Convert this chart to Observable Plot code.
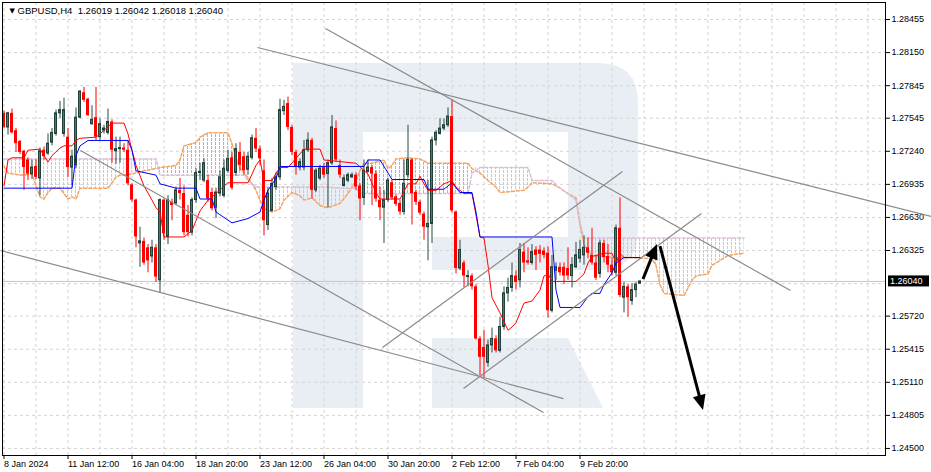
<!DOCTYPE html>
<html><head><meta charset="utf-8">
<script src="https://cdn.jsdelivr.net/npm/d3@7"></script>
<script src="https://cdn.jsdelivr.net/npm/@observablehq/plot@0.6"></script>
<style>html,body{margin:0;padding:0;background:#fff;overflow:hidden}svg{display:block}</style>
</head><body>
<script>
const symbol = "GBPUSD", timeframe = "H4";
const xLabels = ["8 Jan 2024","11 Jan 12:00","16 Jan 04:00","18 Jan 20:00","23 Jan 12:00","26 Jan 04:00","30 Jan 20:00","2 Feb 12:00","7 Feb 04:00","9 Feb 20:00"];
const xTickBars = [0,16,32,48,64,80,96,112,128,144];
const yTickValues = [1.28455,1.28150,1.27845,1.27545,1.27240,1.26935,1.26630,1.26325,1.25720,1.25415,1.25110,1.24805,1.24500];
const yGrid = [1.28455,1.28150,1.27845,1.27545,1.27240,1.26935,1.26630,1.26325,1.26020,1.25720,1.25415,1.25110,1.24805,1.24500];

const open = [
1.2759,1.2746,1.2759,1.2743,1.2733,1.2724,1.2716,1.2703,1.2710,1.2699,
1.2725,1.2722,1.2732,1.2740,1.2759,1.2740,1.2737,1.2709,1.2711,1.2755,
1.2778,1.2772,1.2749,1.2755,1.2737,1.2743,1.2741,1.2751,1.2724,1.2726,
1.2727,1.2725,1.2693,1.2679,1.2639,1.2641,1.2635,1.2627,1.2635,1.2605,
1.2679,1.2645,1.2677,1.2676,1.2688,1.2685,1.2665,1.2649,1.2679,1.2704,
1.2697,1.2697,1.2686,1.2672,1.2685,1.2683,1.2706,1.2718,1.2704,1.2723,
1.2719,1.2707,1.2718,1.2736,1.2726,1.2706,1.2656,1.2669,1.2691,1.2700,
1.2761,1.2768,1.2746,1.2723,1.2709,1.2709,1.2725,1.2734,1.2688,1.2699,
1.2709,1.2703,1.2713,1.2745,1.2711,1.2692,1.2697,1.2700,1.2702,1.2692,
1.2681,1.2705,1.2709,1.2703,1.2679,1.2672,1.2679,1.2695,1.2682,1.2676,
1.2668,1.2702,1.2716,1.2686,1.2677,1.2666,1.2654,1.2657,1.2734,1.2740,
1.2745,1.2748,1.2756,1.2668,1.2616,1.2621,1.2608,1.2609,1.2599,1.2551,
1.2543,1.2529,1.2545,1.2551,1.2540,1.2562,1.2593,1.2598,1.2609,1.2605,
1.2631,1.2623,1.2621,1.2633,1.2633,1.2632,1.2630,1.2577,1.2614,1.2617,
1.2617,1.2616,1.2609,1.2617,1.2625,1.2628,1.2635,1.2628,1.2621,1.2611,
1.2639,1.2627,1.2619,1.2612,1.2653,1.2589,1.2599,1.2586,1.2596,1.26019];
const high = [
1.2761,1.2760,1.2763,1.2745,1.2734,1.2725,1.2718,1.2716,1.2716,1.2727,
1.2728,1.2740,1.2745,1.2762,1.2770,1.2773,1.2745,1.2725,1.2764,1.2780,
1.2783,1.2773,1.2766,1.2783,1.2754,1.2748,1.2763,1.2753,1.2737,1.2737,
1.2731,1.2734,1.2694,1.2680,1.2654,1.2644,1.2638,1.2642,1.2638,1.2680,
1.2680,1.2683,1.2680,1.2691,1.2699,1.2692,1.2674,1.2681,1.2708,1.2713,
1.2717,1.2702,1.2690,1.2690,1.2706,1.2716,1.2725,1.2723,1.2731,1.2732,
1.2723,1.2723,1.2739,1.2745,1.2729,1.2716,1.2690,1.2699,1.2704,1.2772,
1.2771,1.2774,1.2748,1.2725,1.2717,1.2734,1.2741,1.2736,1.2708,1.2711,
1.2713,1.2716,1.2757,1.2752,1.2716,1.2702,1.2704,1.2704,1.2704,1.2694,
1.2716,1.2716,1.2711,1.2706,1.2691,1.2688,1.2699,1.2697,1.2684,1.2679,
1.2716,1.2748,1.2717,1.2688,1.2679,1.2668,1.2697,1.2737,1.2743,1.2754,
1.2754,1.2764,1.2771,1.2669,1.2642,1.2623,1.2614,1.2611,1.2601,1.2553,
1.2559,1.2550,1.2561,1.2554,1.2571,1.2599,1.2607,1.2621,1.2614,1.2639,
1.2639,1.2635,1.2638,1.2636,1.2637,1.2635,1.2636,1.2628,1.2621,1.2621,
1.2621,1.2635,1.2626,1.2640,1.2642,1.2646,1.2644,1.2653,1.2628,1.2642,
1.2642,1.2638,1.2625,1.2656,1.2681,1.2603,1.2601,1.2602,1.2603,1.26042];
const low = [
1.2745,1.2739,1.2740,1.2723,1.2721,1.2688,1.2697,1.2698,1.2698,1.2683,
1.2716,1.2720,1.2729,1.2738,1.2754,1.2737,1.2700,1.2692,1.2708,1.2754,
1.2769,1.2756,1.2748,1.2734,1.2734,1.2740,1.2739,1.2713,1.2712,1.2713,
1.2723,1.2692,1.2677,1.2635,1.2617,1.2619,1.2612,1.2621,1.2603,1.2593,
1.2642,1.2638,1.2660,1.2674,1.2679,1.2646,1.2645,1.2646,1.2676,1.2697,
1.2695,1.2677,1.2669,1.2662,1.2682,1.2681,1.2704,1.2688,1.2701,1.2706,
1.2702,1.2702,1.2716,1.2723,1.2711,1.2646,1.2651,1.2668,1.2688,1.2697,
1.2757,1.2743,1.2720,1.2702,1.2706,1.2706,1.2723,1.2680,1.2686,1.2697,
1.2699,1.2672,1.2711,1.2714,1.2699,1.2691,1.2695,1.2699,1.2688,1.2660,
1.2674,1.2704,1.2674,1.2677,1.2660,1.2639,1.2677,1.2679,1.2673,1.2665,
1.2665,1.2699,1.2656,1.2674,1.2665,1.2642,1.2623,1.2639,1.2729,1.2739,
1.2743,1.2746,1.2667,1.2611,1.2614,1.2598,1.2599,1.2596,1.2550,1.2517,
1.2515,1.2525,1.2538,1.2538,1.2538,1.2559,1.2585,1.2594,1.2596,1.2598,
1.2612,1.2619,1.2619,1.2614,1.2621,1.2625,1.2570,1.2575,1.2605,1.2609,
1.2601,1.2605,1.2598,1.2616,1.2621,1.2619,1.2625,1.2619,1.2605,1.2607,
1.2621,1.2612,1.2609,1.2609,1.2589,1.2575,1.2571,1.2582,1.2589,1.26018];
const close = [
1.2746,1.2759,1.2741,1.2731,1.2723,1.2709,1.2703,1.2709,1.2700,1.2724,
1.2719,1.2731,1.2741,1.2759,1.2762,1.2762,1.2709,1.2719,1.2755,1.2779,
1.2771,1.2757,1.2753,1.2737,1.2749,1.2745,1.2751,1.2725,1.2726,1.2727,
1.2725,1.2694,1.2679,1.2645,1.2641,1.2621,1.2623,1.2635,1.2608,1.2679,
1.2648,1.2679,1.2674,1.2688,1.2685,1.2649,1.2649,1.2679,1.2704,1.2705,
1.2713,1.2680,1.2671,1.2686,1.2700,1.2708,1.2717,1.2690,1.2726,1.2711,
1.2706,1.2719,1.2736,1.2726,1.2717,1.2660,1.2685,1.2694,1.2700,1.2762,
1.2765,1.2746,1.2723,1.2709,1.2714,1.2725,1.2734,1.2688,1.2706,1.2708,
1.2702,1.2713,1.2746,1.2716,1.2702,1.2699,1.2702,1.2702,1.2691,1.2680,
1.2706,1.2709,1.2703,1.2680,1.2672,1.2679,1.2697,1.2681,1.2675,1.2668,
1.2694,1.2716,1.2685,1.2677,1.2667,1.2654,1.2657,1.2734,1.2741,1.2745,
1.2748,1.2756,1.2669,1.2616,1.2633,1.2609,1.2609,1.2599,1.2551,1.2534,
1.2534,1.2545,1.2551,1.2540,1.2562,1.2593,1.2598,1.2609,1.2603,1.2633,
1.2621,1.2621,1.2631,1.2628,1.2629,1.2628,1.2577,1.2617,1.2617,1.2612,
1.2609,1.2609,1.2619,1.2628,1.2633,1.2635,1.2630,1.2621,1.2607,1.2639,
1.2626,1.2619,1.2612,1.2653,1.2591,1.2599,1.2589,1.2596,1.2601,1.26040];

const tenkanBar = [0,1,2,5,6,9,10,11,12,14,15,17,18,19,23,24,27,30,31,32,33,35,37,38,39,40,45,46,47,48,49,50,51,53,55,56,61,62,63,64,65,67,68,69,71,75,79,80,88,91,93,94,99,101,103,104,105,106,108,110,112,113,115,117,118,119,120,121,122,124,126,127,128,130,132,134,135,136,137,143,145,146,147,150,152,153,154,155,159];
const tenkanVal = [1.2692,1.2716,1.2718,1.2718,1.2725,1.2726,1.2720,1.2714,1.2720,1.2727,1.2729,1.2729,1.2734,1.2736,1.2737,1.2740,1.2750,1.2750,1.2740,1.2725,1.2711,1.2692,1.2679,1.2672,1.2668,1.2645,1.2645,1.2648,1.2651,1.2660,1.2669,1.2674,1.2679,1.2685,1.2692,1.2695,1.2695,1.2703,1.2711,1.2716,1.2697,1.2697,1.2704,1.2709,1.2709,1.2726,1.2726,1.2716,1.2713,1.2703,1.2686,1.2680,1.2680,1.2694,1.2694,1.2701,1.2694,1.2688,1.2688,1.2694,1.2697,1.2691,1.2685,1.2685,1.2665,1.2645,1.2644,1.2619,1.2589,1.2575,1.2559,1.2562,1.2566,1.2584,1.2586,1.2596,1.2609,1.2611,1.2604,1.2604,1.2611,1.2621,1.2627,1.2630,1.2630,1.2621,1.2630,1.2626,1.2626];
const kijunBar = [0,17,18,19,21,31,32,33,38,39,43,48,49,52,53,57,61,64,65,66,68,69,90,91,94,97,105,106,110,112,114,117,118,119,137,138,139,144,146,147,149,150,152,153,155,159];
const kijunVal = [1.2690,1.2690,1.2720,1.2729,1.2734,1.2734,1.2725,1.2706,1.2702,1.2694,1.2690,1.2690,1.2680,1.2680,1.2668,1.2658,1.2662,1.2668,1.2679,1.2688,1.2699,1.2710,1.2710,1.2716,1.2716,1.2698,1.2698,1.2689,1.2689,1.2695,1.2686,1.2686,1.2668,1.2645,1.2645,1.2596,1.2580,1.2580,1.2590,1.2593,1.2593,1.2601,1.2612,1.2621,1.2626,1.2626];

const cloudBar = [0,1,4,7,8,9,10,11,12,14,15,16,17,18,19,26,27,28,29,32,35,38,39,43,44,45,48,49,51,56,57,58,59,60,61,62,63,64,65,67,69,70,72,74,75,77,79,81,84,86,88,89,90,92,95,96,97,98,101,104,106,116,117,119,121,123,124,130,131,132,137,139,141,143,144,145,147,152,157,162,163,164,165,170,172,173,176,177,178,181,185];
const spanA = [
1.2710,1.2704,1.2702,1.2703,1.2692,1.2682,1.2680,1.2686,1.2690,1.2690,
1.2685,1.2680,1.2682,1.2680,1.2690,1.2690,1.2695,1.2700,1.2702,1.2703,
1.2706,1.2708,1.2709,1.2711,1.2716,1.2729,1.2732,1.2737,1.2741,1.2741,
1.2731,1.2718,1.2708,1.2704,1.2700,1.2694,1.2688,1.2679,1.2671,1.2668,
1.2671,1.2679,1.2686,1.2683,1.2679,1.2681,1.2674,1.2672,1.2676,1.2685,
1.2697,1.2706,1.2713,1.2713,1.2716,1.2708,1.2711,1.2717,1.2718,1.2717,
1.2713,1.2713,1.2708,1.2704,1.2697,1.2691,1.2686,1.2688,1.2691,1.2695,
1.2694,1.2690,1.2685,1.2681,1.2656,1.2638,1.2628,1.2626,1.2626,1.2625,
1.2619,1.2601,1.2593,1.2591,1.2605,1.2609,1.2611,1.2619,1.2621,1.2628,
1.2630];
const spanB = [
1.2717,1.2717,1.2717,1.2717,1.2717,1.2717,1.2717,1.2717,1.2717,1.2717,
1.2717,1.2717,1.2717,1.2717,1.2717,1.2717,1.2717,1.2717,1.2717,1.2717,
1.2717,1.2717,1.2702,1.2702,1.2702,1.2702,1.2702,1.2702,1.2702,1.2702,
1.2702,1.2702,1.2702,1.2702,1.2697,1.2694,1.2691,1.2691,1.2691,1.2691,
1.2691,1.2691,1.2691,1.2691,1.2691,1.2691,1.2691,1.2691,1.2690,1.2690,
1.2690,1.2685,1.2685,1.2685,1.2685,1.2685,1.2685,1.2685,1.2685,1.2685,
1.2685,1.2685,1.2704,1.2709,1.2709,1.2709,1.2709,1.2709,1.2709,1.2697,
1.2697,1.2690,1.2685,1.2679,1.2658,1.2644,1.2644,1.2644,1.2644,1.2644,
1.2644,1.2644,1.2644,1.2644,1.2644,1.2644,1.2644,1.2644,1.2644,1.2644,
1.2644];

const trendStartBar = [63.375, 80.375, -0.875, 19.125, 94.625, 114.875];
const trendStartPrice = [1.28197, 1.28372, 1.26325, 1.27247, 1.25431, 1.25053];
const trendEndBar = [231.875, 196.625, 139.875, 134.875, 154.625, 174.375];
const trendEndPrice = [1.26639, 1.25956, 1.24960, 1.24831, 1.27053, 1.26666];

const arrowTailBar = [159.875, 164.125];
const arrowTailPrice = [1.26058, 1.26362];
const arrowTipBar = [163.375, 174.875];
const arrowTipPrice = [1.26380, 1.24850];

// ---- build tables ----
const fmt = d3.format(".5f");
const bars = d3.range(open.length).map(i => ({i, o: open[i], h: high[i], l: low[i], c: close[i]}));
const bull = bars.filter(d => d.c >= d.o);
const bear = bars.filter(d => d.c < d.o);
const tenkan = tenkanBar.map((b, k) => ({i: b, v: tenkanVal[k]}));
const kijun = kijunBar.map((b, k) => ({i: b, v: kijunVal[k]}));
const cloud = cloudBar.map((b, k) => ({i: b, a: spanA[k], b: spanB[k]}));
const trends = trendStartBar.map((b, k) => ({i1: b, p1: trendStartPrice[k], i2: trendEndBar[k], p2: trendEndPrice[k]}));
const arrows = arrowTailBar.map((b, k) => ({i1: b, p1: arrowTailPrice[k], i2: arrowTipBar[k], p2: arrowTipPrice[k]}));
const lastBar = bars[bars.length - 1];
const last = lastBar.c;
const title = `${symbol},${timeframe}\u00a0\u00a0${fmt(lastBar.o)} ${fmt(lastBar.h)} ${fmt(lastBar.l)} ${fmt(lastBar.c)}`;
const xGrid = d3.range(0, 221, 8);

const grid = {stroke: "#d4d4d4", strokeDasharray: "3,3"};
const chart = Plot.plot({
  width: 931, height: 472,
  marginTop: 2, marginRight: 46, marginBottom: 17, marginLeft: 2,
  style: {background: "#fff", fontFamily: "Liberation Sans, Arial, sans-serif", fontSize: "9px", color: "#000", overflow: "visible"},
  x: {type: "linear", domain: [-0.375, 220.375], axis: "bottom", ticks: xTickBars, tickFormat: () => "", tickSize: 4, label: null},
  y: {type: "linear", domain: [1.24435, 1.28612], axis: "right", ticks: yTickValues, tickFormat: fmt, tickSize: 4, tickPadding: 2, label: null},
  marks: [
    Plot.ruleY(yGrid, grid),
    Plot.ruleX(xGrid, grid),
    Plot.line(cloud, {x: "i", y: "a", stroke: "#f4a460", strokeDasharray: "3,2"}),
    Plot.line(cloud, {x: "i", y: "b", stroke: "#d8bfd8", strokeDasharray: "3,2"}),
    Plot.ruleY([last], {stroke: "#c6c6c6"}),
    Plot.ruleX(bull, {x: "i", y1: "l", y2: "h", stroke: "#2a4a40"}),
    Plot.ruleX(bear, {x: "i", y1: "l", y2: "h", stroke: "#ff0000"}),
    Plot.rect(bull, {x1: d => d.i - 0.25, x2: d => d.i + 0.25, y1: "o", y2: "c", fill: "#3e8068", stroke: "#22403a", strokeWidth: 1}),
    Plot.rect(bear, {x1: d => d.i - 0.375, x2: d => d.i + 0.375, y1: "o", y2: "c", fill: "#ff0000"}),
    Plot.line(tenkan, {x: "i", y: "v", stroke: "#ff0000", strokeWidth: 1}),
    Plot.line(kijun, {x: "i", y: "v", stroke: "#0000ff", strokeWidth: 1}),
    Plot.link(trends, {x1: "i1", y1: "p1", x2: "i2", y2: "p2", stroke: "#8a8a8a", strokeWidth: 1.2}),
    Plot.text(xTickBars, {x: d => d, text: (d, k) => xLabels[k], frameAnchor: "bottom", dy: 11, dx: 0, textAnchor: "start", fill: "#000"}),
    Plot.text(["\u25BC"], {frameAnchor: "top-left", dx: 7, dy: 8, lineAnchor: "middle", textAnchor: "start", fontSize: 7, fontFamily: "DejaVu Sans", fill: "#000"}),
    Plot.text([title], {frameAnchor: "top-left", dx: 15, dy: 8, lineAnchor: "middle", textAnchor: "start", fontSize: 9.5, fill: "#000"}),
    Plot.frame({stroke: "#000"})
  ]
});

const ns = "http://www.w3.org/2000/svg";
const xs = chart.scale("x"), ys = chart.scale("y");
const firstNode = [...chart.children].find(n => n.tagName.toLowerCase() !== "style");
const mk = (tag, attrs) => { const e = document.createElementNS(ns, tag); for (const k in attrs) e.setAttribute(k, attrs[k]); return e; };

// watermark logo (decoration, behind everything)
chart.insertBefore(mk("path", {
  d: "M293,63H363V408H293Z M363,63H598Q638,63 638,103V230Q638,270 598,270H432V237H568V132H363Z M432,338H568L603,408H432Z",
  fill: "#e9edf4"
}), firstNode);

// Kumo hatch: one dashed column per bar, clipped to the region between Span A and Span B
const cloudPx = cloud.map(d => ({x: xs.apply(d.i), a: ys.apply(d.a), b: ys.apply(d.b)}));
const areaAbove = d3.area().x(d => d.x).y0(d => d.b).y1(d => Math.min(d.a, d.b)); // Span A above B
const areaBelow = d3.area().x(d => d.x).y0(d => d.a).y1(d => Math.min(d.a, d.b)); // Span B above A
const defs = mk("defs", {});
const cpA = mk("clipPath", {id: "kumoA"}); cpA.appendChild(mk("path", {d: areaAbove(cloudPx)}));
const cpB = mk("clipPath", {id: "kumoB"}); cpB.appendChild(mk("path", {d: areaBelow(cloudPx)}));
defs.appendChild(cpA); defs.appendChild(cpB);
chart.insertBefore(defs, firstNode);
const hatchBars = d3.range(cloudBar[0], cloudBar[cloudBar.length - 1] + 1);
const yTop = ys.apply(ys.domain[1]), yBot = ys.apply(ys.domain[0]);
[["kumoA", "#f4a460"], ["kumoB", "#d8bfd8"]].forEach(([id, col]) => {
  const g = mk("g", {"clip-path": `url(#${id})`});
  hatchBars.forEach(b => {
    const x = Math.round(xs.apply(b) - 0.5) + 0.5;
    g.appendChild(mk("line", {x1: x, x2: x, y1: yTop, y2: yBot,
      style: `stroke:${col};stroke-width:1px;stroke-dasharray:3,1;shape-rendering:crispEdges;fill:none`}));
  });
  chart.insertBefore(g, firstNode);
});

// arrows through the plot scales
const ga = mk("g", {});
arrows.forEach(a => {
  const x0 = xs.apply(a.i1), y0 = ys.apply(a.p1), x1 = xs.apply(a.i2), y1 = ys.apply(a.p2);
  const len = Math.hypot(x1 - x0, y1 - y0), ux = (x1 - x0) / len, uy = (y1 - y0) / len;
  const hl = 15, hw = 6.5;
  const bx = x1 - ux * hl, by = y1 - uy * hl;
  ga.appendChild(mk("line", {x1: x0, y1: y0, x2: bx + ux * 2, y2: by + uy * 2, stroke: "#000", "stroke-width": 3}));
  ga.appendChild(mk("path", {d: `M${x1},${y1}L${bx - uy * hw},${by + ux * hw}L${bx + uy * hw},${by - ux * hw}Z`, fill: "#000"}));
});
chart.appendChild(ga);

// current price tag
const py = ys.apply(last);
const tag = mk("g", {"text-anchor": "start"});
tag.appendChild(mk("rect", {x: 888, y: py - 5.5, width: 41, height: 11, fill: "#000"}));
const t = mk("text", {x: 890, y: py + 3.3, fill: "#fff", "text-anchor": "start", "font-family": "Liberation Sans, Arial, sans-serif", "font-size": "9px"});
t.textContent = fmt(last);
tag.appendChild(t);
chart.appendChild(tag);

document.body.appendChild(chart);
</script>
</body></html>
